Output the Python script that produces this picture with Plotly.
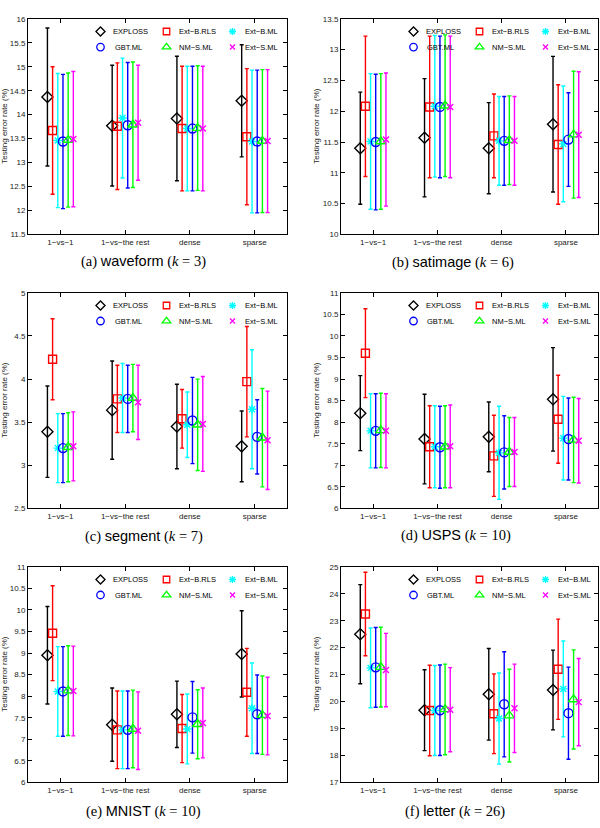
import plotly.graph_objects as go

categories = ["1\u2212vs\u22121", "1\u2212vs\u2212the rest", "dense", "sparse"]
methods = ["EXPLOSS", "Ext\u2212B.RLS", "Ext\u2212B.ML", "GBT.ML", "NM\u2212S.ML", "Ext\u2212S.ML"]

# rows: methods (same order as `methods`), columns: categories
waveform_mean = [[14.37, 13.77, 13.92, 14.29], [13.67, 13.76, 13.71, 13.54], [13.46, 13.93, 13.71, 13.44],
                 [13.44, 13.78, 13.71, 13.44], [13.47, 13.79, 13.72, 13.45], [13.49, 13.83, 13.71, 13.45]]
waveform_std = [[1.44, 1.26, 1.30, 1.17], [1.33, 1.32, 1.30, 1.42], [1.40, 1.25, 1.30, 1.49],
                [1.40, 1.31, 1.30, 1.49], [1.40, 1.31, 1.30, 1.49], [1.41, 1.20, 1.30, 1.49]]

satimage_mean = [[11.40, 11.57, 11.40, 11.79], [12.08, 12.07, 11.60, 11.46], [11.51, 12.08, 11.52, 11.47],
                 [11.50, 12.07, 11.52, 11.54], [11.51, 12.09, 11.53, 11.62], [11.54, 12.07, 11.52, 11.62]]
satimage_std = [[0.91, 0.96, 0.74, 1.10], [1.14, 1.15, 0.68, 0.97], [1.10, 1.15, 0.72, 0.94],
                [1.10, 1.15, 0.72, 0.76], [1.10, 1.15, 0.72, 1.03], [1.08, 1.15, 0.72, 1.02]]

segment_mean = [[3.39, 3.64, 3.45, 3.22], [4.23, 3.77, 3.54, 3.97], [3.20, 3.78, 3.47, 3.65],
                [3.20, 3.77, 3.52, 3.33], [3.21, 3.78, 3.47, 3.32], [3.22, 3.73, 3.48, 3.29]]
segment_std = [[0.53, 0.57, 0.49, 0.41], [0.47, 0.39, 0.34, 0.64], [0.40, 0.40, 0.38, 0.69],
               [0.40, 0.39, 0.50, 0.43], [0.40, 0.39, 0.53, 0.57], [0.40, 0.43, 0.55, 0.57]]

usps_mean = [[8.21, 7.61, 7.66, 8.53], [9.60, 7.43, 7.22, 8.07], [7.80, 7.43, 7.29, 7.63],
             [7.80, 7.42, 7.30, 7.61], [7.81, 7.43, 7.31, 7.59], [7.80, 7.44, 7.31, 7.57]]
usps_std = [[0.87, 1.04, 0.81, 1.20], [1.03, 0.95, 0.94, 1.02], [0.86, 0.95, 1.08, 0.97],
            [0.86, 0.95, 0.85, 0.95], [0.86, 0.95, 0.80, 0.99], [0.86, 0.96, 0.80, 0.98]]

mnist_mean = [[8.95, 7.34, 7.58, 8.98], [9.46, 7.22, 7.25, 8.09], [8.11, 7.22, 7.24, 7.72],
              [8.11, 7.22, 7.51, 7.58], [8.13, 7.24, 7.35, 7.56], [8.12, 7.20, 7.38, 7.54]]
mnist_std = [[1.13, 0.85, 0.77, 1.00], [1.10, 0.90, 0.79, 1.02], [1.04, 0.90, 0.81, 1.05],
             [1.04, 0.90, 0.83, 0.91], [1.04, 0.90, 0.80, 0.91], [1.04, 0.90, 0.81, 0.90]]

letter_mean = [[22.50, 19.68, 20.27, 20.43], [23.25, 19.67, 19.55, 21.20], [21.25, 19.67, 19.37, 20.47],
               [21.27, 19.68, 19.90, 19.57], [21.28, 19.71, 19.48, 20.08], [21.17, 19.70, 19.75, 19.98]]
letter_std = [[1.84, 1.50, 1.70, 1.48], [1.55, 1.68, 1.48, 1.86], [1.48, 1.67, 1.69, 1.78],
              [1.48, 1.68, 1.95, 1.71], [1.48, 1.68, 1.72, 1.84], [1.36, 1.56, 1.64, 1.62]]

dataset_names = ["waveform", "satimage", "segment", "USPS", "MNIST", "letter"]
dataset_k = [3, 6, 7, 10, 10, 26]
panel_letters = ["a", "b", "c", "d", "e", "f"]
y_ranges = [[11.5, 16], [10, 13.5], [2.5, 5], [6, 11], [6, 11], [17, 25]]
y_dticks = [0.5, 0.5, 0.5, 0.5, 0.5, 1]
means = [waveform_mean, satimage_mean, segment_mean, usps_mean, mnist_mean, letter_mean]
stds = [waveform_std, satimage_std, segment_std, usps_std, mnist_std, letter_std]

# ---- styling ----
W, H = 600, 828
offsets = [-0.2, -0.12, -0.04, 0.04, 0.12, 0.2]
colors = ["#000000", "#ff0000", "#00ffff", "#0000ff", "#00ff00", "#ff00ff"]
symbols = ["diamond-open", "square-open", "asterisk-open", "circle-open", "triangle-up-open", "x-thin-open"]
msizes = [8.5, 8, 7, 9, 9, 6]
leg_msizes = [7, 6.5, 6, 7.5, 7.5, 5]
FONT = "Liberation Sans, Arial, sans-serif"

col_px = [(28, 287), (341, 598)]
row_px = [(15, 233), (292, 510), (569, 787)]
caption_px = [(143, 260), (453, 261), (144, 538), (456, 537), (143, 816), (455, 816)]
ytitle_x = [5, 317]
# legend layout relative to the plot's top-left corner (pixels)
leg_sym_dx = [72.5, 138.5, 204.5]
leg_txt_dx = [[83, 148.5, 214.5], [84.5, 149, 214.5]]
leg_row_dy = [13.3, 29]

fig = go.Figure()
layout = dict(width=W, height=H, margin=dict(l=0, r=0, t=0, b=0), showlegend=True,
              paper_bgcolor="white", plot_bgcolor="white", annotations=[])

for p in range(6):
    r, c = divmod(p, 2)
    x0, x1 = col_px[c]
    yt, yb = row_px[r]
    ax = "" if p == 0 else str(p + 1)
    xa = dict(domain=[x0 / W, x1 / W], anchor="y" + ax, range=[0.5, 4.5],
              tickmode="array", tickvals=[1, 2, 3, 4], ticktext=categories,
              ticks="inside", ticklen=4, tickwidth=1, tickcolor="black",
              showline=True, linecolor="black", linewidth=1, mirror="ticks",
              showgrid=False, zeroline=False, fixedrange=True,
              tickfont=dict(family=FONT, size=8, color="#222"))
    ya = dict(domain=[1 - yb / H, 1 - yt / H], anchor="x" + ax, range=y_ranges[p],
              dtick=y_dticks[p], tick0=0,
              ticks="inside", ticklen=4, tickwidth=1, tickcolor="black",
              showline=True, linecolor="black", linewidth=1, mirror="ticks",
              showgrid=False, zeroline=False, fixedrange=True,
              tickfont=dict(family=FONT, size=8, color="#222"))
    layout["xaxis" + ax] = xa
    layout["yaxis" + ax] = ya

    for m in range(6):
        fig.add_trace(go.Scatter(
            x=[i + 1 + offsets[m] for i in range(4)], y=means[p][m],
            mode="markers", name=methods[m], showlegend=False,
            xaxis="x" + ax, yaxis="y" + ax,
            marker=dict(symbol=symbols[m], size=msizes[m], color=colors[m],
                        line=dict(color=colors[m], width=1.4)),
            error_y=dict(type="data", array=stds[p][m], symmetric=True,
                         color=colors[m], thickness=1.4, width=2),
        ))

    # legend: one symbol-only legend per method, label as text
    for m in range(6):
        row, k = divmod(m, 3)
        lidx = 6 * p + m
        lname = "legend" if lidx == 0 else "legend%d" % (lidx + 1)
        fig.add_trace(go.Scatter(
            x=[None], y=[None], mode="markers", name=" ", legend=lname, showlegend=True,
            xaxis="x" + ax, yaxis="y" + ax, hoverinfo="skip",
            marker=dict(symbol=symbols[m], size=leg_msizes[m], color=colors[m],
                        line=dict(color=colors[m], width=1.3)),
        ))
        sx = x0 + leg_sym_dx[k]
        sy = yt + leg_row_dy[row]
        layout[lname] = dict(x=(sx - 20) / W, y=1 - (sy - 0.5) / H, xanchor="left", yanchor="middle",
                             orientation="h", bgcolor="rgba(0,0,0,0)", visible=True,
                             itemsizing="trace",
                             font=dict(family=FONT, size=7.5, color="black"))
        layout["annotations"].append(dict(
            x=(x0 + leg_txt_dx[row][k]) / W, y=1 - sy / H, xref="paper", yref="paper",
            showarrow=False, xanchor="left", yanchor="middle", text=methods[m],
            font=dict(family=FONT, size=7.5, color="black")))

    cx, cy = caption_px[p]
    layout["annotations"].append(dict(
        x=cx / W, y=1 - cy / H, xref="paper", yref="paper", showarrow=False,
        xanchor="center", yanchor="middle",
        text="(%s) <span style='font-family:Liberation Sans'>%s</span> (<i>k</i> = %d)"
             % (panel_letters[p], dataset_names[p], dataset_k[p]),
        font=dict(family="Liberation Serif, serif", size=14.5, color="black")))
    layout["annotations"].append(dict(
        x=ytitle_x[c] / W, y=1 - (yt + yb) / 2 / H, xref="paper", yref="paper",
        showarrow=False, textangle=-90, xanchor="center", yanchor="middle",
        text="Testing error rate (%)",
        font=dict(family=FONT, size=8, color="#222")))

fig.update_layout(**layout)
fig.write_html("out.html")
